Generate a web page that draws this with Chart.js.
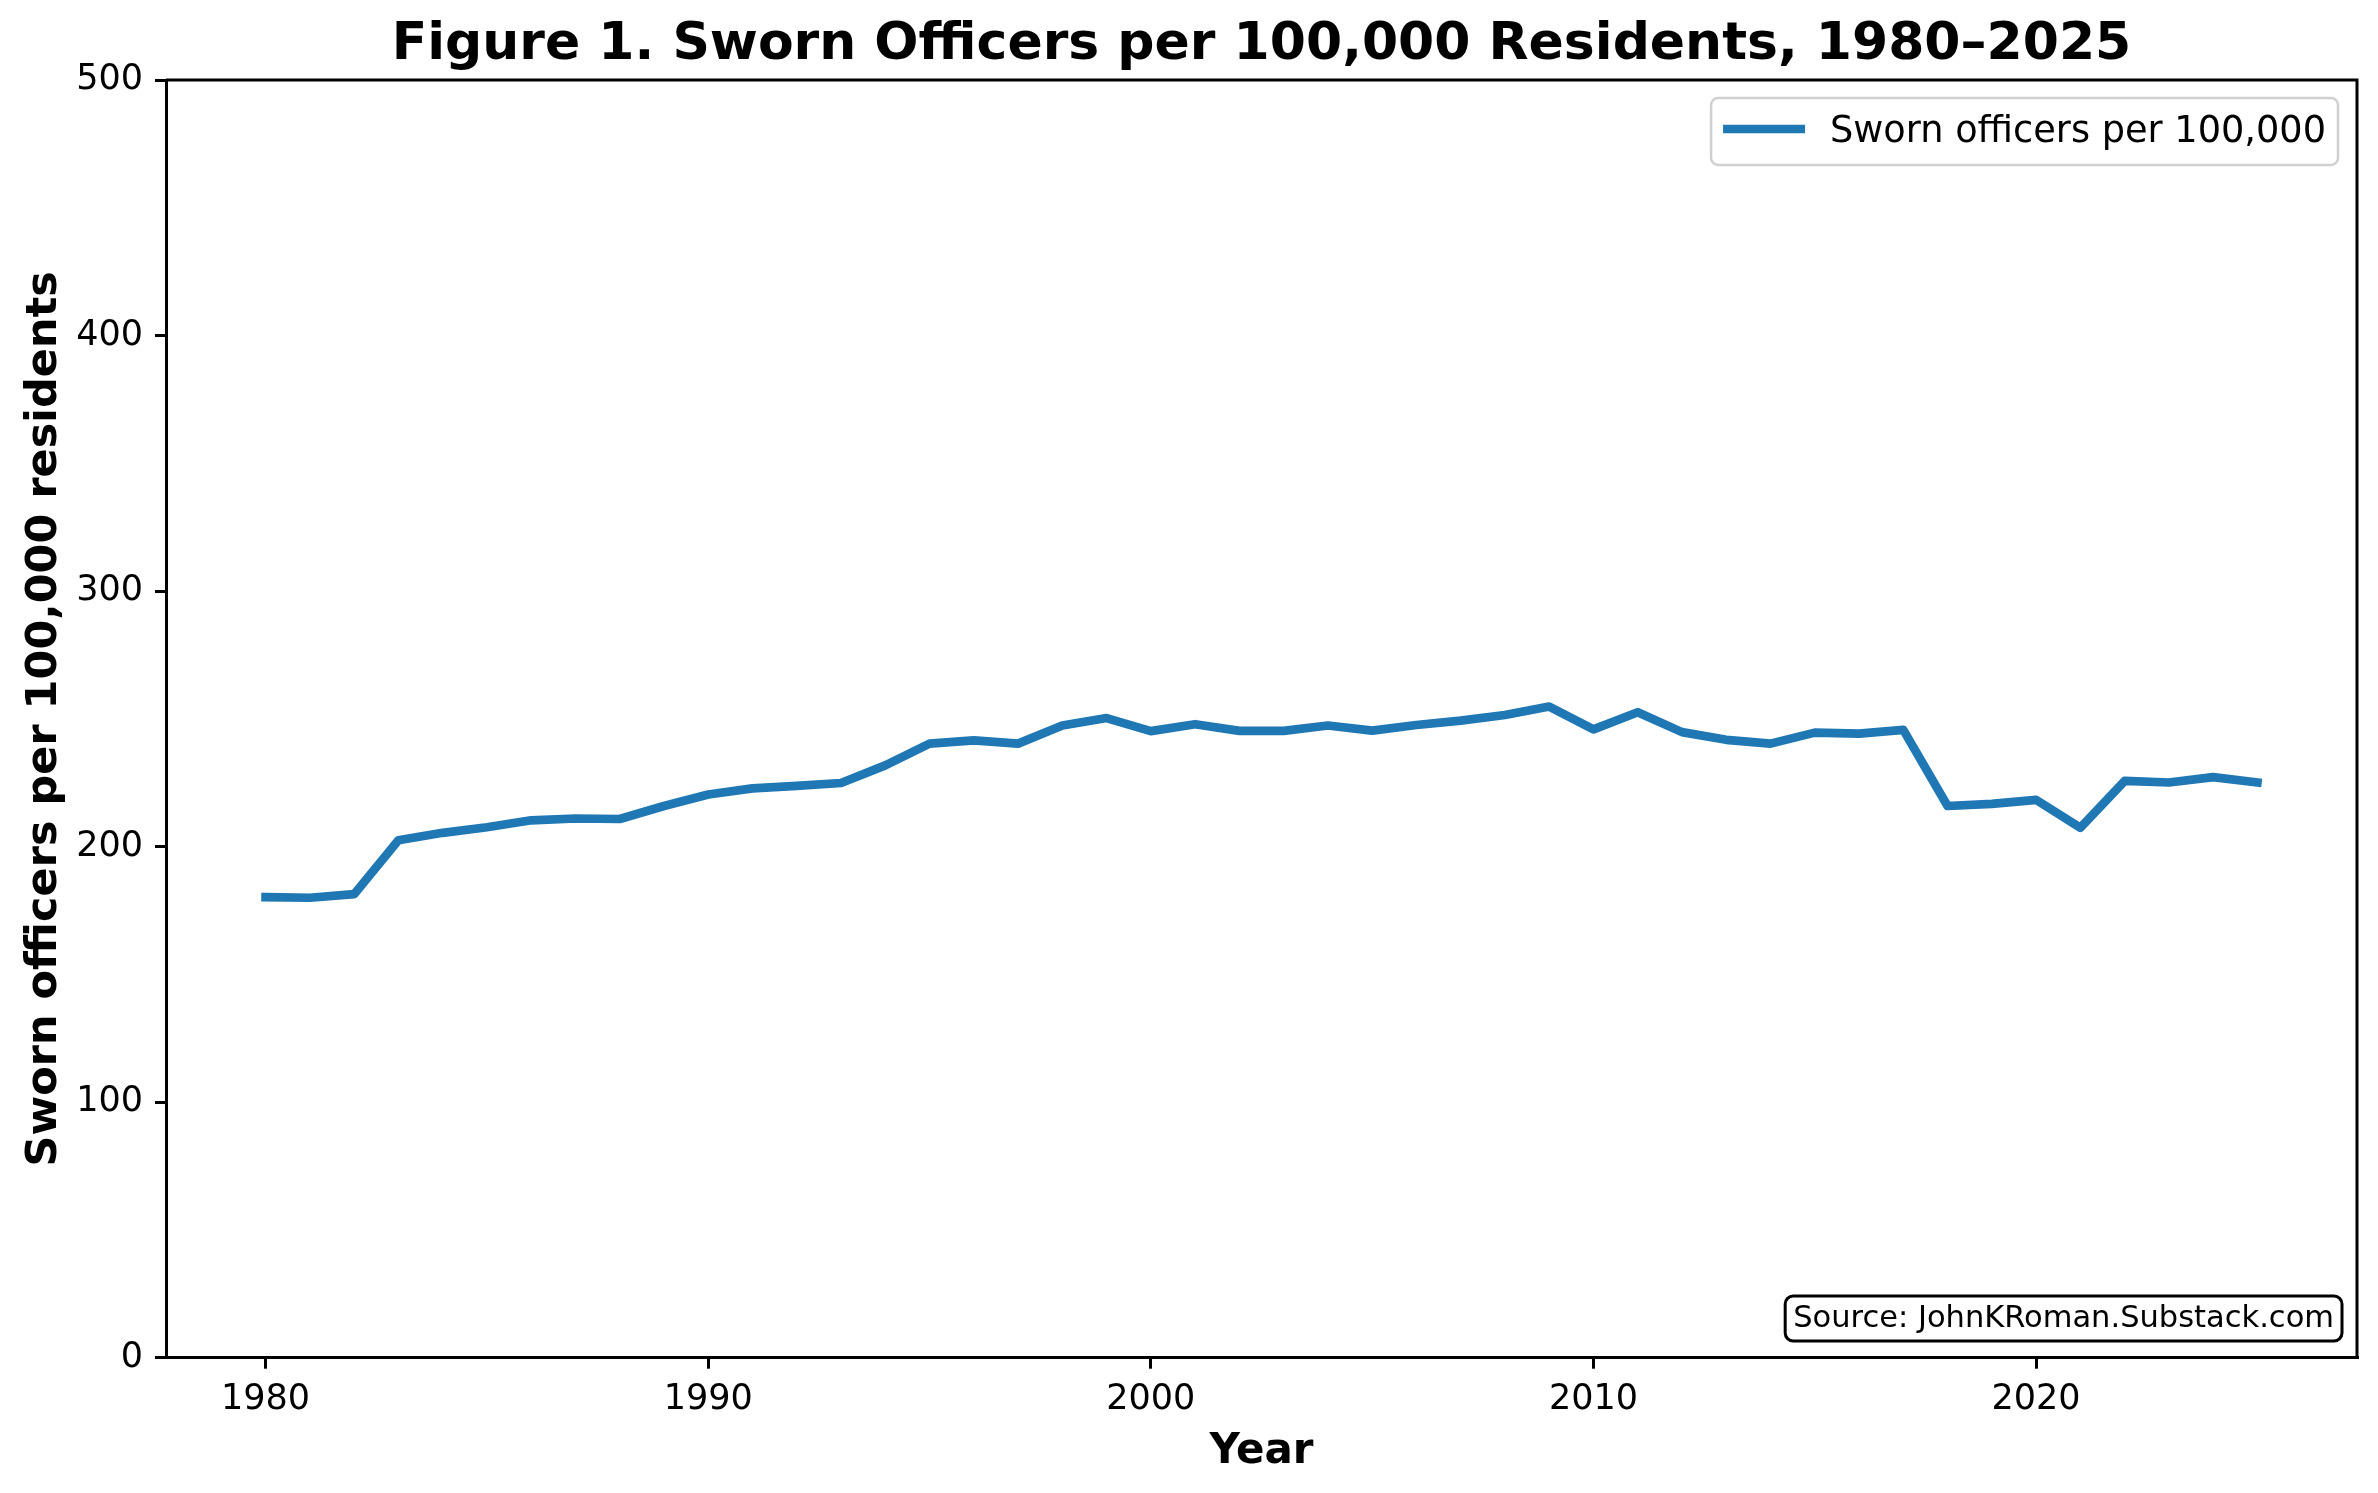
<!DOCTYPE html>
<html lang="en">
<head>
    <meta charset="UTF-8">
    <title>Sworn Officers per 100,000 Residents</title>
    <script src="https://cdn.jsdelivr.net/npm/chart.js"></script>
    <style>
        html, body { margin: 0; padding: 0; background: #fff; }
        #wrap { width: 2378px; height: 1493px; }
    </style>
</head>
<body>
    <div id="wrap">
        <canvas id="officers-chart" width="2378" height="1493"></canvas>
    </div>
    <script>
        // data
        const years = [
            1980, 1981, 1982, 1983, 1984, 1985, 1986, 1987, 1988, 1989,
            1990, 1991, 1992, 1993, 1994, 1995, 1996, 1997, 1998, 1999,
            2000, 2001, 2002, 2003, 2004, 2005, 2006, 2007, 2008, 2009,
            2010, 2011, 2012, 2013, 2014, 2015, 2016, 2017, 2018, 2019,
            2020, 2021, 2022, 2023, 2024, 2025
        ];
        const officersPer100k = [
            180.2, 180.0, 181.4, 202.5, 205.4, 207.6, 210.3, 211.0, 210.8, 215.9,
            220.4, 222.8, 223.8, 224.9, 231.8, 240.3, 241.6, 240.3, 247.4, 250.3,
            245.2, 247.9, 245.3, 245.3, 247.4, 245.4, 247.6, 249.3, 251.5, 254.8,
            245.9, 252.6, 244.8, 241.8, 240.3, 244.6, 244.2, 245.7, 215.9, 216.7,
            218.3, 207.4, 225.7, 225.1, 227.2, 225.1
        ];
        const xTicks = [1980, 1990, 2000, 2010, 2020];
        const yTicks = [0, 100, 200, 300, 400, 500];

        const titleText = 'Figure 1. Sworn Officers per 100,000 Residents, 1980\u20132025';
        const seriesLabel = 'Sworn officers per 100,000';
        const sourceText = 'Source: JohnKRoman.Substack.com';

        const FONT = "'DejaVu Sans', sans-serif";
        const LINE_BLUE = '#1f77b4';

        function rrect(ctx, x, y, w, h, r) {
            ctx.beginPath();
            ctx.moveTo(x + r, y);
            ctx.arcTo(x + w, y, x + w, y + h, r);
            ctx.arcTo(x + w, y + h, x, y + h, r);
            ctx.arcTo(x, y + h, x, y, r);
            ctx.arcTo(x, y, x + w, y, r);
            ctx.closePath();
        }

        // title, frame, legend and source box
        const decorations = {
            id: 'decorations',
            afterDraw(chart) {
                const ctx = chart.ctx;
                const a = chart.chartArea;
                ctx.save();

                // top and right spines
                ctx.strokeStyle = '#000';
                ctx.lineWidth = 3;
                ctx.beginPath();
                ctx.moveTo(a.left, a.top);
                ctx.lineTo(a.right, a.top);
                ctx.lineTo(a.right, a.bottom);
                ctx.stroke();

                // title
                ctx.fillStyle = '#000';
                ctx.font = 'bold 52px ' + FONT;
                ctx.textAlign = 'center';
                ctx.textBaseline = 'alphabetic';
                ctx.fillText(titleText, (a.left + a.right) / 2, 59);

                // legend
                const ds = chart.data.datasets[0];
                ctx.font = '36.7px ' + FONT;
                const tw = ctx.measureText(ds.label).width;
                const lw = 12 + 82 + 25 + tw + 12;
                const lx = a.right - 19 - lw;
                const ly = 98;
                rrect(ctx, lx, ly, lw, 67, 7);
                ctx.fillStyle = 'rgba(255,255,255,0.8)';
                ctx.fill();
                ctx.strokeStyle = '#d0d0d0';
                ctx.lineWidth = 2.5;
                ctx.stroke();
                ctx.strokeStyle = ds.borderColor;
                ctx.lineWidth = ds.borderWidth;
                ctx.lineCap = 'butt';
                ctx.beginPath();
                ctx.moveTo(lx + 12, ly + 31);
                ctx.lineTo(lx + 94, ly + 31);
                ctx.stroke();
                ctx.fillStyle = '#000';
                ctx.textAlign = 'left';
                ctx.textBaseline = 'alphabetic';
                ctx.fillText(ds.label, lx + 119, 142);

                // source box
                ctx.font = '30.5px ' + FONT;
                const sw = ctx.measureText(sourceText).width;
                const bw = sw + 16;
                const bx = a.right - 15 - bw;
                rrect(ctx, bx, 1296, bw, 45, 8);
                ctx.fillStyle = '#fff';
                ctx.fill();
                ctx.strokeStyle = '#000';
                ctx.lineWidth = 3;
                ctx.stroke();
                ctx.fillStyle = '#000';
                ctx.textBaseline = 'middle';
                ctx.fillText(sourceText, bx + 8, 1319);

                ctx.restore();
            }
        };

        const ctx = document.getElementById('officers-chart').getContext('2d');
        const chart = new Chart(ctx, {
            type: 'line',
            data: {
                datasets: [{
                    label: seriesLabel,
                    data: years.map((yr, i) => ({ x: yr, y: officersPer100k[i] })),
                    borderColor: LINE_BLUE,
                    backgroundColor: LINE_BLUE,
                    borderWidth: 8.7,
                    borderCapStyle: 'square',
                    borderJoinStyle: 'round',
                    pointRadius: 0,
                    tension: 0,
                    fill: false
                }]
            },
            options: {
                responsive: false,
                animation: false,
                devicePixelRatio: 1,
                layout: { padding: { left: 0, right: 21, top: 80, bottom: 0 } },
                plugins: {
                    legend: { display: false },
                    title: { display: false },
                    tooltip: { enabled: false }
                },
                scales: {
                    x: {
                        type: 'linear',
                        min: 1977.75,
                        max: 2027.25,
                        afterBuildTicks: (scale) => { scale.ticks = xTicks.map(v => ({ value: v })); },
                        afterFit: (scale) => { scale.height = 135.3; },
                        grid: { drawOnChartArea: false, drawTicks: true, tickLength: 11, color: '#000', lineWidth: 3 },
                        border: { display: true, color: '#000', width: 3 },
                        ticks: {
                            color: '#000',
                            padding: 10,
                            maxRotation: 0,
                            font: { family: FONT, size: 35 },
                            callback: (v) => String(v)
                        },
                        title: {
                            display: true,
                            text: 'Year',
                            color: '#000',
                            font: { family: FONT, size: 42, weight: 'bold' },
                            padding: { top: 0, bottom: 16 }
                        }
                    },
                    y: {
                        min: 0,
                        max: 500,
                        afterBuildTicks: (scale) => { scale.ticks = yTicks.map(v => ({ value: v })); },
                        afterFit: (scale) => { scale.width = 166; },
                        grid: { drawOnChartArea: false, drawTicks: true, tickLength: 11, color: '#000', lineWidth: 3 },
                        border: { display: true, color: '#000', width: 3 },
                        ticks: {
                            color: '#000',
                            padding: 12,
                            font: { family: FONT, size: 35 },
                            callback: (v) => String(v)
                        },
                        title: {
                            display: true,
                            text: 'Sworn officers per 100,000 residents',
                            color: '#000',
                            font: { family: FONT, size: 43, weight: 'bold' },
                            padding: { top: 19, bottom: 0 }
                        }
                    }
                }
            },
            plugins: [decorations]
        });
    </script>
</body>
</html>
